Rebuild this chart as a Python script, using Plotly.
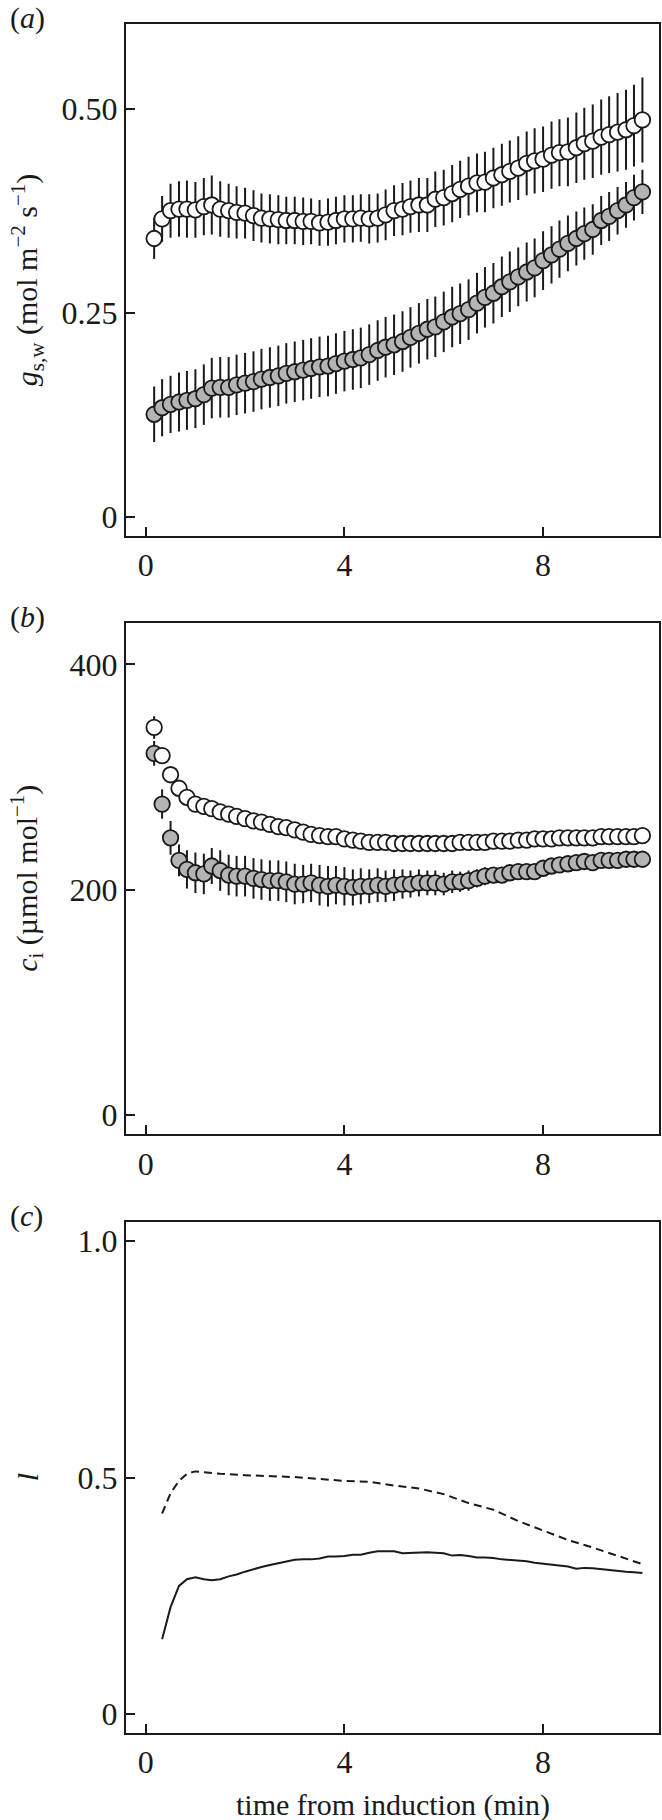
import plotly.graph_objects as go

# temps depuis l'induction (min)
time = [0.17, 0.33, 0.5, 0.67, 0.83, 1.0, 1.17, 1.33, 1.5, 1.67, 1.83, 2.0,
        2.17, 2.33, 2.5, 2.67, 2.83, 3.0, 3.17, 3.33, 3.5, 3.67, 3.83, 4.0,
        4.17, 4.33, 4.5, 4.67, 4.83, 5.0, 5.17, 5.33, 5.5, 5.67, 5.83, 6.0,
        6.17, 6.33, 6.5, 6.67, 6.83, 7.0, 7.17, 7.33, 7.5, 7.67, 7.83, 8.0,
        8.17, 8.33, 8.5, 8.67, 8.83, 9.0, 9.17, 9.33, 9.5, 9.67, 9.83, 10.0]

# (a) conductance stomatique
gs_open = [0.341, 0.365, 0.375, 0.377, 0.377, 0.376, 0.380, 0.382, 0.377, 0.375, 0.373, 0.372,
           0.369, 0.366, 0.365, 0.364, 0.363, 0.363, 0.362, 0.362, 0.360, 0.361, 0.363, 0.365,
           0.365, 0.366, 0.365, 0.366, 0.370, 0.375, 0.377, 0.380, 0.382, 0.382, 0.389, 0.391,
           0.396, 0.401, 0.405, 0.409, 0.410, 0.415, 0.419, 0.423, 0.427, 0.433, 0.436, 0.438,
           0.443, 0.446, 0.447, 0.452, 0.457, 0.460, 0.465, 0.468, 0.471, 0.474, 0.479, 0.486]
gs_open_err = [0.025, 0.028, 0.033, 0.034, 0.035, 0.034, 0.035, 0.036, 0.034, 0.033, 0.032, 0.031,
               0.031, 0.030, 0.030, 0.030, 0.029, 0.029, 0.029, 0.028, 0.028, 0.029, 0.029, 0.029,
               0.029, 0.029, 0.030, 0.030, 0.031, 0.031, 0.032, 0.032, 0.033, 0.033, 0.034, 0.034,
               0.035, 0.035, 0.036, 0.036, 0.037, 0.037, 0.038, 0.038, 0.039, 0.039, 0.040, 0.040,
               0.041, 0.041, 0.042, 0.043, 0.044, 0.045, 0.046, 0.047, 0.048, 0.049, 0.050, 0.052]
gs_grey = [0.126, 0.134, 0.138, 0.141, 0.143, 0.145, 0.150, 0.158, 0.159, 0.159, 0.162, 0.164,
           0.166, 0.169, 0.171, 0.173, 0.176, 0.178, 0.180, 0.182, 0.184, 0.185, 0.188, 0.191,
           0.193, 0.195, 0.199, 0.204, 0.208, 0.211, 0.215, 0.220, 0.225, 0.230, 0.233, 0.239,
           0.245, 0.249, 0.254, 0.262, 0.269, 0.274, 0.282, 0.288, 0.294, 0.300, 0.305, 0.314,
           0.321, 0.328, 0.335, 0.341, 0.347, 0.352, 0.363, 0.368, 0.375, 0.382, 0.391, 0.398]
gs_grey_err = [0.034, 0.035, 0.035, 0.036, 0.036, 0.036, 0.037, 0.037, 0.037, 0.037, 0.037, 0.037,
               0.037, 0.037, 0.037, 0.037, 0.037, 0.037, 0.037, 0.037, 0.037, 0.037, 0.037, 0.037,
               0.037, 0.037, 0.037, 0.037, 0.037, 0.037, 0.037, 0.037, 0.037, 0.037, 0.037, 0.037,
               0.037, 0.037, 0.037, 0.037, 0.037, 0.037, 0.037, 0.037, 0.036, 0.036, 0.036, 0.036,
               0.035, 0.035, 0.034, 0.033, 0.032, 0.031, 0.030, 0.030, 0.029, 0.028, 0.028, 0.027]

# (b) CO2 intercellulaire
ci_open = [344, 319, 302, 290, 282, 276, 274, 272, 269, 267, 265, 263,
           261, 260, 258, 256, 255, 253, 251, 249, 248, 247, 247, 245,
           244, 243, 242, 242, 242, 241, 241, 241, 241, 241, 241, 241,
           241, 242, 242, 242, 242, 243, 243, 243, 244, 244, 245, 245,
           245, 246, 246, 246, 246, 246, 247, 247, 247, 247, 247, 248]
ci_open_err = [10, 6, 5, 5, 4, 4, 4, 4, 4, 4, 4, 4, 4, 4, 4, 4, 4, 4, 4, 4,
               4, 4, 4, 4, 4, 4, 4, 4, 4, 4, 4, 4, 4, 4, 4, 4, 4, 4, 4, 4,
               4, 4, 4, 4, 4, 4, 4, 4, 4, 4, 4, 4, 4, 4, 4, 4, 4, 4, 4, 4]
ci_grey = [321, 276, 246, 226, 218, 215, 214, 221, 217, 213, 212, 212,
           210, 209, 208, 208, 207, 205, 205, 206, 204, 203, 204, 203,
           202, 203, 203, 204, 203, 204, 205, 205, 206, 206, 206, 205,
           207, 207, 208, 210, 212, 213, 213, 215, 216, 216, 216, 219,
           221, 222, 223, 224, 225, 224, 226, 226, 226, 227, 227, 227]
ci_grey_err = [11, 13, 15, 14, 17, 18, 18, 16, 18, 18, 18, 18, 18, 18, 18, 18, 18, 18, 17, 17,
               18, 18, 17, 17, 16, 16, 15, 15, 14, 14, 13, 12, 12, 11, 11, 10, 10, 9, 9, 8,
               8, 7, 7, 6, 6, 6, 6, 5, 5, 5, 5, 5, 5, 5, 5, 5, 5, 5, 5, 5]

# (c) limitation stomatique
time_l = time[1:]
l_solid = [0.158, 0.226, 0.271, 0.285, 0.289, 0.285, 0.283, 0.285, 0.291, 0.295, 0.301,
           0.307, 0.311, 0.315, 0.319, 0.323, 0.326, 0.327, 0.327, 0.329, 0.333, 0.333, 0.334,
           0.337, 0.337, 0.341, 0.344, 0.344, 0.344, 0.340, 0.341, 0.342, 0.342, 0.341, 0.340,
           0.335, 0.336, 0.334, 0.331, 0.331, 0.330, 0.327, 0.326, 0.325, 0.323, 0.320, 0.318,
           0.316, 0.314, 0.312, 0.307, 0.309, 0.308, 0.306, 0.304, 0.303, 0.301, 0.300, 0.298]
time_dash = [0.33, 0.5, 0.67, 0.83, 1.0, 1.5, 2.0, 2.5, 3.0, 3.5, 4.0, 4.5, 5.0, 5.5,
             6.0, 6.5, 7.0, 7.5, 8.0, 8.5, 9.0, 9.5, 10.0]
l_dash = [0.424, 0.467, 0.493, 0.508, 0.513, 0.508, 0.505, 0.503, 0.501, 0.497, 0.493,
          0.491, 0.483, 0.477, 0.465, 0.446, 0.432, 0.408, 0.388, 0.368, 0.352, 0.335, 0.317]

W, H = 662, 1820
FONT = "Liberation Serif"
INK = "#1a1a1a"
GREY = "#b4b4b4"
FS = 30      # titres
TICK_FS = 32  # graduations

fig = go.Figure()


def points(x, y, err, fill, ax):
    fig.add_trace(go.Scatter(
        x=x, y=y, mode="markers", xaxis="x" + ax, yaxis="y" + ax,
        error_y=dict(type="data", array=err, visible=True, color=INK, thickness=2, width=0),
        marker=dict(size=15.5, color=fill, line=dict(color=INK, width=1.8)),
        showlegend=False))


points(time, gs_grey, gs_grey_err, GREY, "")
points(time, gs_open, gs_open_err, "white", "")
points(time, ci_grey, ci_grey_err, GREY, "2")
points(time, ci_open, ci_open_err, "white", "2")
fig.add_trace(go.Scatter(x=time_dash, y=l_dash, mode="lines", xaxis="x3", yaxis="y3",
                         line=dict(color=INK, width=2, dash="8px,5px"), showlegend=False))
fig.add_trace(go.Scatter(x=time_l, y=l_solid, mode="lines", xaxis="x3", yaxis="y3",
                         line=dict(color=INK, width=2), showlegend=False))

# domaines en fraction de la page (mesurés sur l'image)
x_dom = [126 / W, 659.3 / W]
y_doms = [[1 - 536 / H, 1 - 24.3 / H],
          [1 - 1134.3 / H, 1 - 623.3 / H],
          [1 - 1732.7 / H, 1 - 1221.7 / H]]
y_ranges = [[-0.0229, 0.603], [-17.1, 436.4], [-0.0395, 1.041]]
y_ticks = [([0, 0.25, 0.5], ["0", "0.25", "0.50"]),
           ([0, 200, 400], ["0", "200", "400"]),
           ([0, 0.5, 1.0], ["0", "0.5", "1.0"])]

layout = dict(width=W, height=H, margin=dict(l=0, r=0, t=0, b=0),
              paper_bgcolor="white", plot_bgcolor="white", showlegend=False,
              font=dict(family=FONT, size=FS, color=INK))
for i in range(3):
    s = "" if i == 0 else str(i + 1)
    layout["xaxis" + s] = dict(domain=x_dom, range=[-0.397, 10.34],
                               tickvals=[0, 4, 8], ticktext=["0", "4", "8"],
                               anchor="y" + s)
    layout["yaxis" + s] = dict(domain=y_doms[i], range=y_ranges[i],
                               tickvals=y_ticks[i][0], ticktext=y_ticks[i][1],
                               anchor="x" + s)
fig.update_layout(**layout)
frame = dict(showline=True, linecolor=INK, linewidth=2, mirror=True,
             ticks="inside", ticklen=9, tickwidth=2, tickcolor=INK,
             showgrid=False, zeroline=False,
             tickfont=dict(family=FONT, size=TICK_FS, color=INK))
fig.update_xaxes(**frame)
fig.update_yaxes(**frame)

# titres d'axes et étiquettes de panneaux
txt = dict(family=FONT, size=FS, color=INK)
y_titles = ["<i>g</i><sub>s,w</sub> (mol m<sup>−2</sup> s<sup>−1</sup>)",
            "<i>c</i><sub>i</sub> (µmol mol<sup>−1</sup>)",
            "<i>l</i>"]
for i, t in enumerate(y_titles):
    yc = (y_doms[i][0] + y_doms[i][1]) / 2
    fig.add_annotation(text=t, xref="paper", yref="paper", x=27 / W, y=yc,
                       textangle=-90, showarrow=False, font=txt,
                       xanchor="center", yanchor="middle")
    fig.add_annotation(text="(<i>" + "abc"[i] + "</i>)", xref="paper", yref="paper",
                       x=8 / W, y=y_doms[i][1] + 6 / H, showarrow=False, font=txt,
                       xanchor="left", yanchor="middle")

fig.add_annotation(text="time from induction (min)", xref="paper", yref="paper",
                   x=(x_dom[0] + x_dom[1]) / 2, y=1 - 1805 / H, showarrow=False,
                   font=txt, xanchor="center", yanchor="middle")

# pas de marge autour de la page, sinon le graphe déborde
fig.write_html("out.html", config={"displayModeBar": False},
               post_script="document.body.style.margin='0';document.body.style.overflow='hidden';")
